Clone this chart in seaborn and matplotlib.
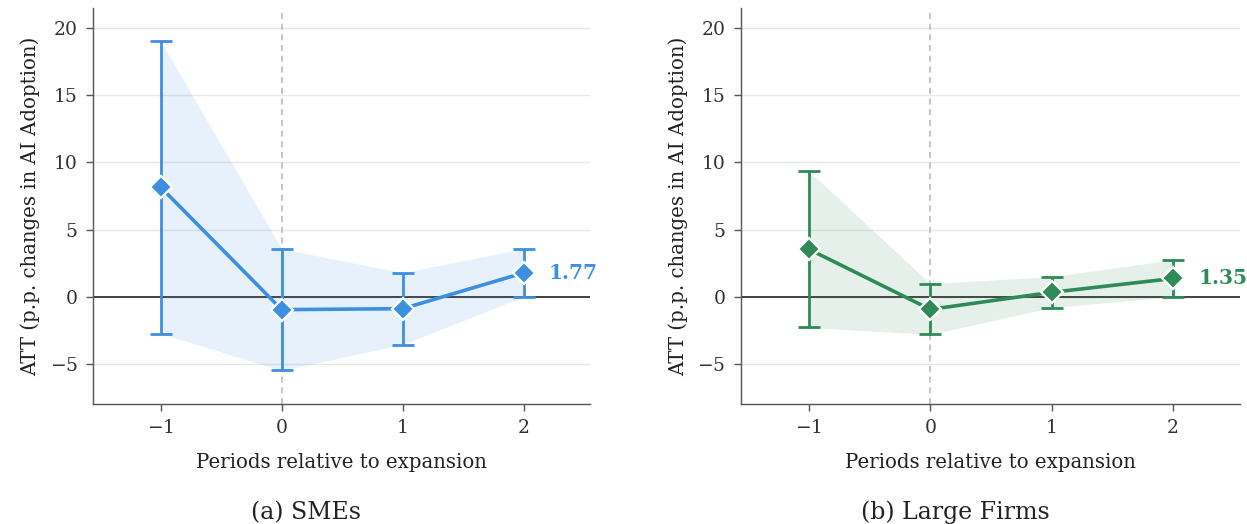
import numpy as np
import pandas as pd
import matplotlib
matplotlib.use("Agg")
import matplotlib.pyplot as plt
import seaborn as sns

# Event-study estimates (ATT, percentage points) with 95% confidence bounds
periods = [-1, 0, 1, 2]

sme_att = [8.15, -0.97, -0.90, 1.77]
sme_lo = [-2.75, -5.50, -3.57, 0.00]
sme_hi = [19.02, 3.57, 1.78, 3.57]

large_att = [3.53, -0.95, 0.32, 1.35]
large_lo = [-2.30, -2.82, -0.82, 0.00]
large_hi = [9.36, 0.97, 1.49, 2.75]

panel_titles = ["(a) SMEs", "(b) Large Firms"]
yticks = [-5, 0, 5, 10, 15, 20]
xlabel = "Periods relative to expansion"
ylabel = "ATT (p.p. changes in AI Adoption)"

sns.set_theme(style="white")
plt.rcParams["font.family"] = ["DejaVu Serif"]
plt.rcParams["mathtext.fontset"] = "dejavuserif"

fig = plt.figure(figsize=(12.47, 5.24), dpi=100)
axes = [fig.add_axes([0.0746, 0.229, 0.3986, 0.7557]),
        fig.add_axes([0.5942, 0.229, 0.4000, 0.7557])]

panels = [
    (sme_att, sme_lo, sme_hi, "#3d8fe0"),
    (large_att, large_lo, large_hi, "#2e8b57"),
]

for ax, (att, lo, hi, color), title, cx in zip(axes, panels, panel_titles, [0.245, 0.766]):
    df = pd.DataFrame({"period": periods, "att": att, "lo": lo, "hi": hi})
    ax.set_axisbelow(True)
    ax.grid(axis="y", color="#e8e8e8", linewidth=1.0)
    ax.axhline(0, color="#222222", linewidth=1.2, zorder=1)
    ax.axvline(0, color="#b5b5b5", linewidth=1.1, linestyle=(0, (4, 3)), zorder=1)
    ax.fill_between(df["period"], df["lo"], df["hi"], color=color, alpha=0.12,
                    linewidth=0, zorder=2)
    ax.errorbar(df["period"], df["att"],
                yerr=[df["att"] - df["lo"], df["hi"] - df["att"]],
                fmt="none", ecolor=color, elinewidth=2.0, capsize=8, capthick=2.0,
                zorder=3)
    sns.lineplot(data=df, x="period", y="att", ax=ax, color=color, linewidth=2.6,
                 marker="D", markersize=11, markeredgecolor="white",
                 markeredgewidth=1.6, zorder=4)
    last = df.iloc[-1]
    ax.text(last["period"] + 0.21, last["att"], f"{last['att']:.2f}", color=color,
            fontsize=14.5, fontweight="bold", va="center", ha="left")

    ax.set_xlim(-1.56, 2.55)
    ax.set_ylim(-8, 21.5)
    ax.set_xticks(periods)
    ax.set_xticklabels([f"$-${abs(p)}" if p < 0 else str(p) for p in periods])
    ax.set_yticks(yticks)
    ax.set_yticklabels([f"$-${abs(t)}" if t < 0 else str(t) for t in yticks])
    ax.tick_params(axis="both", which="major", labelsize=13.5, colors="#333333",
                   length=5, width=1.0, direction="out", bottom=True, left=True,
                   color="#555555", pad=6)
    ax.set_xlabel(xlabel, fontsize=14.2, color="#222222", labelpad=11)
    ax.set_ylabel(ylabel, fontsize=14.2, color="#222222", labelpad=7)
    for side in ["top", "right"]:
        ax.spines[side].set_visible(False)
    for side in ["left", "bottom"]:
        ax.spines[side].set_color("#555555")
        ax.spines[side].set_linewidth(1.0)
    fig.text(cx, 0.0, title, ha="center", va="bottom", fontsize=17, color="#222222")

fig.savefig("out.png", dpi=100)
